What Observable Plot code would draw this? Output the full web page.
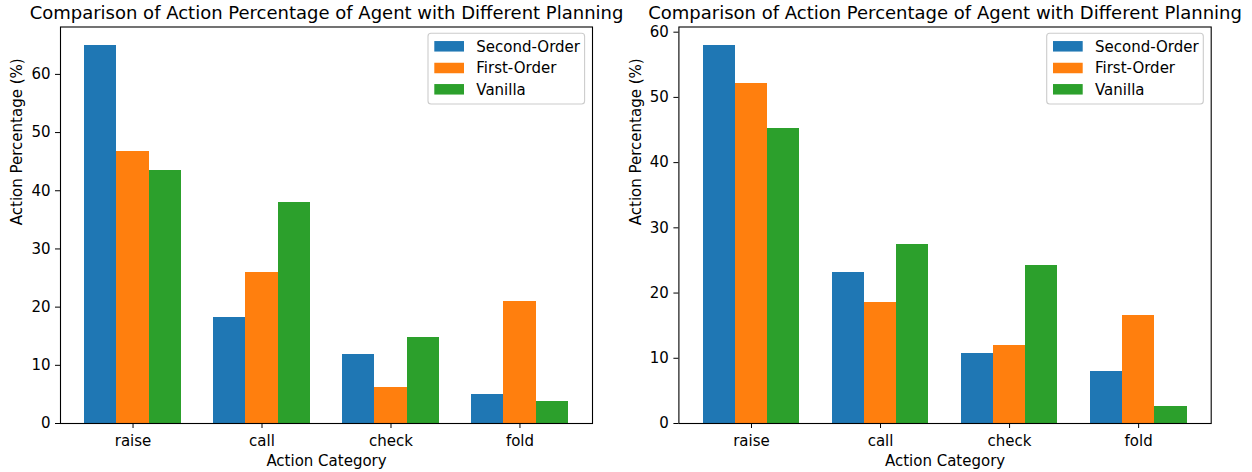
<!DOCTYPE html>
<html>
<head>
<meta charset="utf-8">
<script src="https://cdn.jsdelivr.net/npm/d3@7"></script>
<script src="https://cdn.jsdelivr.net/npm/@observablehq/plot@0.6"></script>
<style>
  html, body { margin: 0; padding: 0; background: white; }
  #wrap { display: flex; width: 1252px; height: 472px; }
  svg { overflow: visible; }
</style>
</head>
<body>
<div id="wrap"></div>
<script>
const categories = ["raise", "call", "check", "fold"];
const series = ["Second-Order", "First-Order", "Vanilla"];
const colors = ["#1f77b4", "#ff7f0e", "#2ca02c"];
const yTicks = [0, 10, 20, 30, 40, 50, 60];
const title = "Comparison of Action Percentage of Agent with Different Planning";
const xLabel = "Action Category";
const yLabel = "Action Percentage (%)";

// Left chart values (per series, per category)
const leftSecondOrder = [64.9, 18.2, 11.8, 5.0];
const leftFirstOrder  = [46.8, 25.9, 6.2, 20.9];
const leftVanilla     = [43.4, 37.9, 14.7, 3.8];

// Right chart values
const rightSecondOrder = [57.9, 23.1, 10.8, 7.9];
const rightFirstOrder  = [52.2, 18.6, 12.0, 16.6];
const rightVanilla     = [45.2, 27.5, 24.3, 2.6];

const barWidth = 0.25;
const FS = 15;
const TFS = 18;

function buildRows(lists) {
  const rows = [];
  lists.forEach((vals, s) => {
    vals.forEach((v, i) => rows.push({i, s, series: series[s], value: v}));
  });
  return rows;
}

function makeChart(lists, opts) {
  const rows = buildRows(lists);
  const ymax = d3.max(rows, d => d.value) * 1.05;
  const n = categories.length;
  const half = barWidth * series.length / 2;
  const pad = (n - 1 + 2 * half) * 0.05;
  const svg = Plot.plot({
    width: opts.width,
    height: 472,
    marginLeft: opts.marginLeft,
    marginRight: opts.marginRight,
    marginTop: 26.5,
    marginBottom: 49,
    style: {fontFamily: "'DejaVu Sans', sans-serif", fontSize: FS + "px", color: "black", background: "white", overflow: "visible"},
    x: {domain: [-half - pad, n - 1 + half + pad]},
    y: {domain: [0, ymax]},
    color: {domain: series, range: colors},
    marks: [
      Plot.rectY(rows, {
        x1: d => d.i + (d.s - 1) * barWidth - barWidth / 2,
        x2: d => d.i + (d.s - 1) * barWidth + barWidth / 2,
        y1: 0,
        y2: "value",
        fill: "series",
        shapeRendering: "crispEdges"
      }),
      Plot.axisX({ticks: d3.range(n), tickFormat: i => categories[i], tickSize: 5, tickPadding: 7, label: null, fontSize: FS}),
      Plot.axisY({ticks: yTicks, tickSize: 5, tickPadding: 5, label: null, fontSize: FS}),
      Plot.frame({stroke: "black", strokeWidth: 1.1}),
      Plot.text([title], {frameAnchor: "top", dy: -14, fontSize: TFS, lineAnchor: "middle", text: d => d}),
      Plot.text([xLabel], {frameAnchor: "bottom", dy: 38, fontSize: FS, lineAnchor: "middle", text: d => d}),
      Plot.text([yLabel], {frameAnchor: "left", dx: -43, rotate: -90, fontSize: FS, lineAnchor: "middle", text: d => d})
    ]
  });

  // Legend (upper right, matplotlib style)
  const frameRight = opts.width - opts.marginRight;
  const bx = frameRight - 164, by = 33.3, bw = 156.6, bh = 70.7;
  const g = d3.select(svg).append("g")
    .attr("font-family", "'DejaVu Sans', sans-serif")
    .attr("font-size", FS)
    .attr("text-anchor", "start");
  g.append("rect").attr("x", bx).attr("y", by).attr("width", bw).attr("height", bh)
    .attr("rx", 3).attr("fill", "white").attr("fill-opacity", 0.8).attr("stroke", "#cccccc").attr("stroke-width", 1.1);
  const rowY = [13, 34.7, 56];
  series.forEach((name, k) => {
    g.append("rect").attr("x", bx + 6.3).attr("y", by + rowY[k] - 5.25)
      .attr("width", 29.7).attr("height", 10.5).attr("fill", colors[k]);
    g.append("text").attr("x", bx + 48.3).attr("y", by + rowY[k]).attr("dy", "0.35em")
      .attr("text-anchor", "start").attr("fill", "black").text(name);
  });
  return svg;
}

const wrap = document.getElementById("wrap");
wrap.appendChild(makeChart([leftSecondOrder, leftFirstOrder, leftVanilla], {width: 626, marginLeft: 60, marginRight: 34}));
wrap.appendChild(makeChart([rightSecondOrder, rightFirstOrder, rightVanilla], {width: 626, marginLeft: 52.4, marginRight: 41.3}));
</script>
</body>
</html>
